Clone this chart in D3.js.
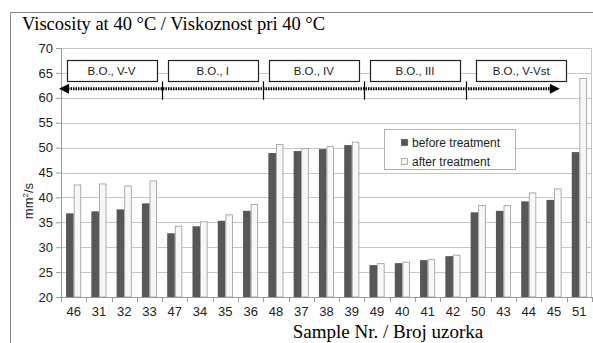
<!DOCTYPE html>
<html lang="en">
<head>
    <meta charset="UTF-8">
    <title>Viscosity at 40 °C</title>
    <style>
        body {
            margin: 0;
            padding: 0;
            background: #fff;
        }
        svg text {
            font-family: "Liberation Sans", Arial, sans-serif;
        }
        .serif {
            font-family: "Liberation Serif", "Times New Roman", serif !important;
        }
    </style>
</head>
<body>
<svg id="chart"></svg>

<script src="https://d3js.org/d3.v7.min.js"></script>
<script>
    // Data
    var samples = ["46", "31", "32", "33", "47", "34", "35", "36", "48", "37",
        "38", "39", "49", "40", "41", "42", "50", "43", "44", "45", "51"];
    var before = [36.8, 37.2, 37.6, 38.8, 32.8, 34.2, 35.3, 37.3, 48.9, 49.3,
        49.7, 50.5, 26.4, 26.8, 27.4, 28.2, 37.0, 37.3, 39.2, 39.5, 49.1];
    var after = [42.5, 42.7, 42.3, 43.3, 34.2, 35.1, 36.5, 38.6, 50.6, 49.8,
        50.2, 51.1, 26.7, 27.0, 27.5, 28.4, 38.4, 38.4, 40.9, 41.7, 63.9];
    var groups = ["B.O., V-V", "B.O., I", "B.O., IV", "B.O., III", "B.O., V-Vst"];
    // first sample index of each group (last group drawn a bit short, as in the original)
    var groupStarts = [0, 4, 8, 12, 16, 20.4];
    var yTicks = [20, 25, 30, 35, 40, 45, 50, 55, 60, 65, 70];
    var seriesNames = ["before treatment", "after treatment"];

    var W = 593, H = 343;
    var margin = {top: 48, right: 1, bottom: 46, left: 61};
    var width = W - margin.left - margin.right,
        height = H - margin.top - margin.bottom;

    var svg = d3.select("#chart")
        .attr("width", W)
        .attr("height", H);

    // outer chart frame
    svg.append("path")
        .attr("d", "M10.5," + H + "V12.5H" + W)
        .attr("fill", "none")
        .attr("stroke", "#868686");

    svg.append("text")
        .attr("class", "serif")
        .attr("x", 22)
        .attr("y", 30)
        .style("font-size", "18.5px")
        .text("Viscosity at 40 °C / Viskoznost pri 40 °C");

    var g = svg.append("g")
        .attr("transform", "translate(" + margin.left + "," + margin.top + ")");

    var x = d3.scaleBand()
        .domain(d3.range(samples.length))
        .range([0, width]);

    var y = d3.scaleLinear()
        .domain([20, 70])
        .range([height, 0]);

    var inner = d3.scaleBand()
        .domain([0, 1])
        .range([x.bandwidth() * 0.2, x.bandwidth() * 0.8]);

    // gridlines
    g.selectAll(".grid").data(yTicks.slice(1))
        .enter().append("line")
        .attr("x1", 0)
        .attr("x2", width)
        .attr("y1", d => Math.round(y(d)) + 0.5)
        .attr("y2", d => Math.round(y(d)) + 0.5)
        .attr("stroke", "#c6c6c6");

    // plot area border (top / right)
    g.append("path")
        .attr("d", "M0," + (Math.round(y(70)) + 0.5) + "H" + (width - 0.5) + "V" + height)
        .attr("fill", "none")
        .attr("stroke", "#c6c6c6");

    // bars
    var bar = g.selectAll(".sample").data(samples)
        .enter().append("g")
        .attr("transform", (d, i) => "translate(" + x(i) + ",0)");

    bar.append("rect")
        .attr("x", inner(0))
        .attr("width", inner.bandwidth())
        .attr("y", (d, i) => y(before[i]))
        .attr("height", (d, i) => y(20) - y(before[i]))
        .attr("fill", "#575757");

    bar.append("rect")
        .attr("x", inner(1) + 0.5)
        .attr("width", inner.bandwidth() - 1)
        .attr("y", (d, i) => y(after[i]))
        .attr("height", (d, i) => y(20) - y(after[i]))
        .attr("fill", "#f7f7f7")
        .attr("stroke", "#9a9a9a")
        .attr("stroke-width", 0.8);

    // y axis
    var yAxis = g.append("g")
        .call(d3.axisLeft(y).tickValues(yTicks).tickSize(5).tickPadding(3));
    yAxis.select(".domain").attr("stroke", "#9a9a9a");
    yAxis.selectAll(".tick line").attr("stroke", "#9a9a9a");
    yAxis.selectAll(".tick text")
        .style("font-size", "13px")
        .attr("fill", "#222");

    // x axis
    var xAxis = g.append("g")
        .attr("transform", "translate(0," + height + ")");
    xAxis.append("line")
        .attr("x1", 0).attr("x2", width)
        .attr("y1", 0.5).attr("y2", 0.5)
        .attr("stroke", "#9a9a9a");
    xAxis.selectAll(".xt").data(d3.range(samples.length + 1))
        .enter().append("line")
        .attr("x1", d => Math.round(d * x.step()) + 0.5)
        .attr("x2", d => Math.round(d * x.step()) + 0.5)
        .attr("y1", 0).attr("y2", 5)
        .attr("stroke", "#9a9a9a");
    xAxis.selectAll(".xl").data(samples)
        .enter().append("text")
        .attr("x", (d, i) => x(i) + x.bandwidth() / 2)
        .attr("y", 19)
        .attr("text-anchor", "middle")
        .style("font-size", "13px")
        .attr("fill", "#222")
        .text(d => d);

    svg.append("text")
        .attr("class", "serif")
        .attr("x", 388)
        .attr("y", 338)
        .attr("text-anchor", "middle")
        .style("font-size", "19px")
        .text("Sample Nr. / Broj uzorka");

    var yTitle = svg.append("text")
        .attr("transform", "translate(33,201) rotate(-90)")
        .attr("text-anchor", "middle")
        .style("font-size", "13px")
        .attr("fill", "#222");
    yTitle.append("tspan").text("mm");
    yTitle.append("tspan").attr("dy", -5).style("font-size", "8px").text("2");
    yTitle.append("tspan").attr("dy", 5).text("/s");

    // group annotation: boxes, dotted arrow with separators
    var gx = function (k) { return k * x.step(); };
    var mid = function (i) { return gx((groupStarts[i] + groupStarts[i + 1]) / 2); };

    var ann = g.append("g");
    var boxTop = y(67.5), boxBottom = y(63.3);
    ann.selectAll(".gbox").data(groups)
        .enter().append("rect")
        .attr("x", (d, i) => Math.round(mid(i) - 45) + 0.5)
        .attr("y", Math.round(boxTop) + 0.5)
        .attr("width", 90)
        .attr("height", Math.round(boxBottom - boxTop))
        .attr("fill", "#fff")
        .attr("stroke", "#222")
        .attr("stroke-width", 1.2);
    ann.selectAll(".glabel").data(groups)
        .enter().append("text")
        .attr("x", (d, i) => mid(i))
        .attr("y", (boxTop + boxBottom) / 2 + 4)
        .attr("text-anchor", "middle")
        .style("font-size", "11.5px")
        .attr("fill", "#222")
        .text(d => d);

    var arrowY = y(61.8);
    var arrowL = gx(0) - 2, arrowR = gx(groupStarts[groupStarts.length - 1]) - 17;
    ann.append("line")
        .attr("x1", arrowL + 9).attr("x2", arrowR - 9)
        .attr("y1", arrowY).attr("y2", arrowY)
        .attr("stroke", "#000")
        .attr("stroke-width", 3)
        .attr("stroke-dasharray", "1.5,1");
    ann.append("path")
        .attr("d", "M" + arrowL + "," + arrowY + "l10,-5v10z")
        .attr("fill", "#000");
    ann.append("path")
        .attr("d", "M" + arrowR + "," + arrowY + "l-10,-5v10z")
        .attr("fill", "#000");
    ann.selectAll(".sep").data(groupStarts.slice(1, groups.length))
        .enter().append("line")
        .attr("x1", d => Math.round(gx(d)) + 0.5)
        .attr("x2", d => Math.round(gx(d)) + 0.5)
        .attr("y1", boxBottom)
        .attr("y2", y(59.6))
        .attr("stroke", "#000")
        .attr("stroke-width", 1.2);

    // legend
    var legend = svg.append("g").attr("transform", "translate(384,129)");
    legend.append("rect")
        .attr("x", 0.5).attr("y", 0.5)
        .attr("width", 131).attr("height", 40)
        .attr("fill", "#fff")
        .attr("stroke", "#b0b0b0");
    var item = legend.selectAll(".item").data(seriesNames)
        .enter().append("g")
        .attr("transform", (d, i) => "translate(17," + (10 + i * 19) + ")");
    item.append("rect")
        .attr("x", 0.5).attr("y", 0.5)
        .attr("width", 6).attr("height", 6)
        .attr("fill", (d, i) => i === 0 ? "#575757" : "#f7f7f7")
        .attr("stroke", (d, i) => i === 0 ? "#575757" : "#9a9a9a")
        .attr("stroke-width", 0.8);
    item.append("text")
        .attr("x", 11)
        .attr("y", 8)
        .style("font-size", "12px")
        .attr("fill", "#222")
        .text(d => d);
</script>
</body>
</html>
